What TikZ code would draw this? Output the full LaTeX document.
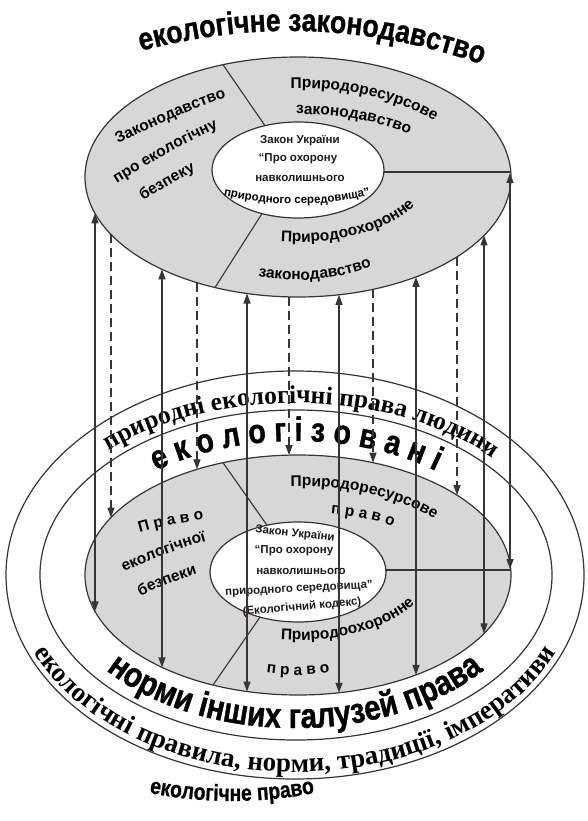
\documentclass[tikz,border=0pt]{standalone}
\usepackage{fontspec}
\setmainfont{Liberation Serif}
\newfontfamily\sansb{Liberation Sans}
\newfontfamily\sansc[FakeStretch=0.84,FakeBold=1]{Liberation Sans}
\newfontfamily\serifb{Liberation Serif}
\usetikzlibrary{decorations.text,arrows.meta}
\definecolor{ink}{HTML}{3A3333}
\definecolor{greyfill}{HTML}{D7D7D7}
\definecolor{txt}{HTML}{1E1A1A}
\newcommand\Ftitle{\sansc\bfseries\fontsize{31.5}{31.5}\selectfont}
\newcommand\Fbtitle{\sansc\bfseries\fontsize{23}{23}\selectfont}
\newcommand\Fring{\serifb\bfseries\fontsize{25.5}{25.5}\selectfont}
\newcommand\Fringb{\serifb\bfseries\fontsize{27}{27}\selectfont}
\newcommand\Fbig{\sansc\bfseries\fontsize{35}{35}\selectfont}
\newcommand\Fmid{\sansc\bfseries\fontsize{34}{34}\selectfont}
\newcommand\Fsec{\sansb\bfseries\fontsize{15.5}{15.5}\selectfont}
\newcommand\Fin{\sansb\bfseries\fontsize{11.5}{11.5}\selectfont}
\tikzset{
  ring/.style={draw=ink, line width=1.2pt},
  ctext/.style={decorate, decoration={text along path, text align=center, text={#1}}},
  earc/.style n args={6}{insert path={({#1+#3*cos(#5)},{#2+#4*sin(#5)}) arc[start angle=#5,end angle=#6,x radius=#3,y radius=#4]}},
  biarrow/.style={draw=ink, line width=1.3pt, {Triangle[length=10pt,width=7pt]}-{Triangle[length=10pt,width=7pt]}},
  dasharrow/.style={draw=ink, line width=1.2pt, dash pattern=on 9pt off 5pt, -{Triangle[length=10pt,width=7pt]}},
  divider/.style={draw=ink, line width=1.1pt},
  intext/.style={font=\Fin, text=txt, inner sep=0pt},
}
\begin{document}
\begin{tikzpicture}[x=1pt,y=-1pt]
\path[use as bounding box] (0,0) rectangle (588,821);
\fill[white] (0,0) rectangle (588,821);

% ---------- bottom system ----------
\draw[ring] (295,575) ellipse[x radius=289,y radius=204];
\draw[ring] (296,575) ellipse[x radius=256,y radius=165];
\draw[ring, fill=greyfill] (298,575) ellipse[x radius=213,y radius=120];
\draw[ring, fill=white] (298,572) ellipse[x radius=88,y radius=50];
% ---------- top system ----------
\draw[ring, fill=greyfill] (298,177) ellipse[x radius=213,y radius=120];
\draw[ring, fill=white] (298,170) ellipse[x radius=86,y radius=48];

% ---------- sector dividers ----------
\coordinate (ta1) at (223,64.7);  \coordinate (tb1) at (265,125.7);
\coordinate (ta2) at (262,213.6); \coordinate (tb2) at (215,287.5);
\coordinate (ta3) at (384,172);   \coordinate (tb3) at (510.8,172);
\coordinate (ba1) at (223,462.7); \coordinate (bb1) at (267,525.2);
\coordinate (ba2) at (260,617.1); \coordinate (bb2) at (213,685);
\coordinate (ba3) at (385.9,570); \coordinate (bb3) at (510.8,570);
\foreach \i in {1,2,3} {
  \draw[divider] (ta\i) -- (tb\i);
  \draw[divider] (ba\i) -- (bb\i);
}

% ---------- titles ----------
\path[ctext={|\Ftitle|екологічне законодавство}] (111,60) .. controls (244.3,16.7) and (377.7,21.8) .. (511,75.3);
\path[ctext={|\Fbtitle|екологічне право}] (140,791) .. controls (201.3,804.3) and (262.7,804.3) .. (324,791);

% ---------- ring texts ----------
\path[ctext={|\Fring|природні екологічні права людини}, earc={295}{575}{270}{172}{210}{334}];
\path[ctext={|\Fmid|е к о л о г і з о в а н і}, earc={296}{575}{222}{134}{205}{335}];
\path[ctext={|\Fbig|норми інших галузей права}, earc={295}{575}{241}{153}{160}{20}];
\path[ctext={|\Fringb|екологічні правила, норми, традиції, імперативи}, earc={295}{575}{284}{197}{176}{4}];

% ---------- top sector texts ----------
\path[ctext={|\Fsec|Законодавство}] (97,155) .. controls (145.7,128.3) and (196.3,106.7) .. (249,90);
\path[ctext={|\Fsec|про екологічну}] (96,197) .. controls (141.7,166) and (190,139.7) .. (241,118);
\path[ctext={|\Fsec|безпеку}] (128,212) .. controls (154.3,192.2) and (182.7,175.9) .. (213,163);
\path[ctext={|\Fsec|Природоресурсове}, earc={298}{177}{176}{89}{253}{343}];
\path[ctext={|\Fsec|законодавство}, earc={298}{177}{150}{63}{253}{344}];
\path[ctext={|\Fsec|Природоохоронне}, earc={298}{177}{130}{65}{115}{-5}];
\path[ctext={|\Fsec|законодавство}, earc={298}{177}{150}{103}{120}{45}];

% ---------- bottom sector texts ----------
\path[ctext={|\Fsec|П р а в о}] (121,538.5) .. controls (154.3,527.5) and (188.3,520.5) .. (223,517.5);
\path[ctext={|\Fsec|екологічної}] (104,582) .. controls (143.3,561.3) and (184.7,545.7) .. (228,535);
\path[ctext={|\Fsec|безпеки}] (125,604) .. controls (153,588.7) and (182.7,577) .. (214,569);
\path[ctext={|\Fsec|Природоресурсове}, earc={298}{575}{176}{89}{253}{343}];
\path[ctext={|\Fsec|п р а в о}, earc={298}{575}{150}{63}{258}{348}];
\path[ctext={|\Fsec|Природоохоронне}, earc={298}{575}{130}{65}{115}{-5}];
\path[ctext={|\Fsec|п р а в о}, earc={298}{575}{150}{100}{125}{55}];

% ---------- inner texts ----------
\node[intext] (ti1) at (300,141) {Закон України};
\node[intext] (ti2) at (298,159) {“Про охорону};
\node[intext] (ti3) at (300,178) {навколишнього};
\path[ctext={|\Fin|природного середовища”}] (218,194) .. controls (270.7,207.3) and (323.3,207.3) .. (376,194);

\node[intext, rotate=-6] (bi1) at (295,534) {Закон України};
\node[intext] (bi2) at (294,551) {“Про охорону};
\node[intext] (bi3) at (301,571) {навколишнього};
\node[intext, rotate=3] (bi4) at (299,589) {природного середовища”};
\node[intext, rotate=5] (bi5) at (302,607) {(Екологічний кодекс)};

% ---------- connectors ----------
\foreach \x [count=\i] in {95,162,247,339,416,484} {
  \coordinate (st\i) at (\x,{177+120*sqrt(1-((\x-298)/213)^2)});
  \coordinate (sb\i) at (\x,{575+120*sqrt(1-((\x-298)/213)^2)});
  \draw[biarrow] (st\i) -- (sb\i);
}
\coordinate (rt) at (510,173);
\coordinate (rb) at (510,569);
\draw[biarrow] (rt) -- (rb);
\foreach \x [count=\i] in {111,197,289,373,457} {
  \coordinate (dt\i) at (\x,{177+120*sqrt(1-((\x-298)/213)^2)});
  \coordinate (db\i) at (\x,{575-120*sqrt(1-((\x-298)/213)^2)});
  \draw[dasharrow] (dt\i) -- (db\i);
}
\end{tikzpicture}
\end{document}
